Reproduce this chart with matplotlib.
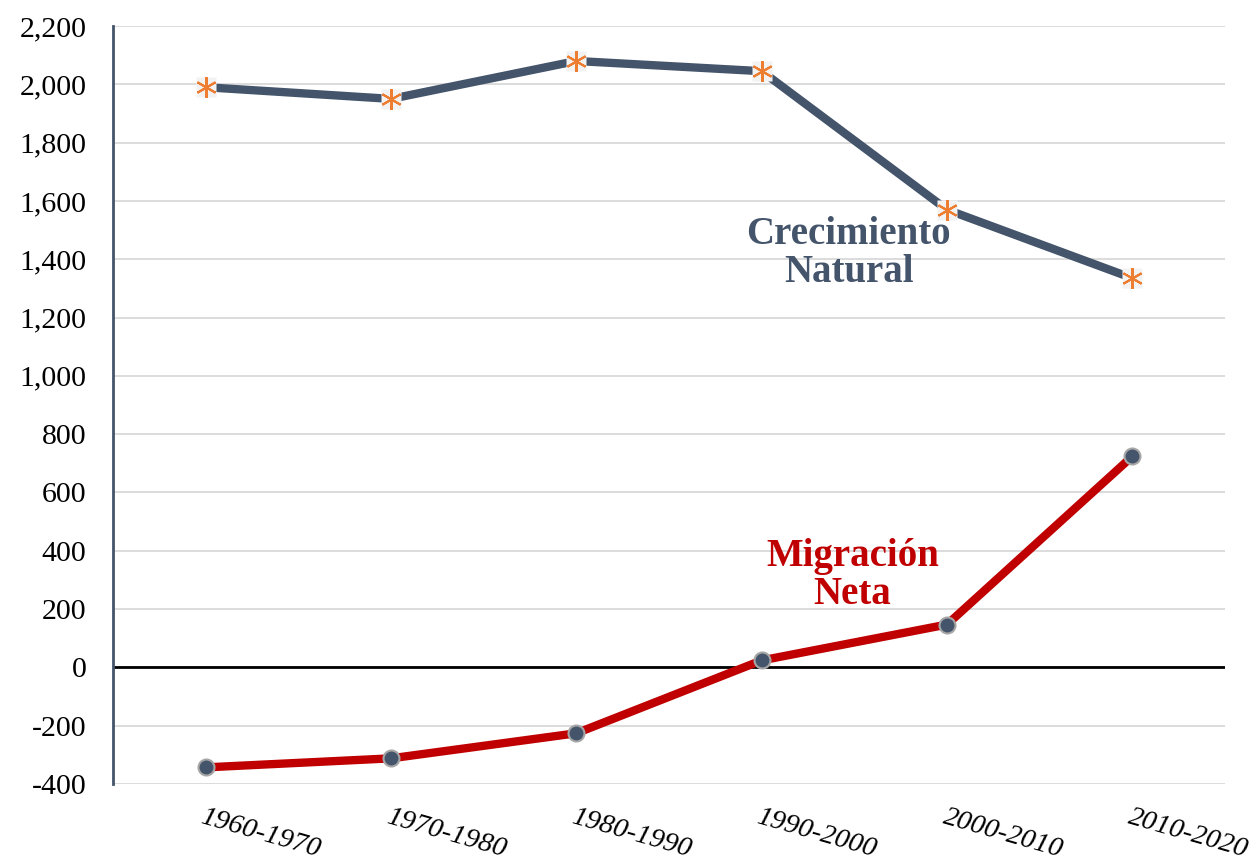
import matplotlib.pyplot as plt
from matplotlib.ticker import FuncFormatter

periodos = ['1960-1970', '1970-1980', '1980-1990', '1990-2000', '2000-2010', '2010-2020']
crecimiento = [1990, 1950, 2080, 2045, 1570, 1335]
migracion = [-343, -312, -226, 24, 147, 724]

plt.rcParams['font.family'] = ['Liberation Serif', 'DejaVu Serif']

fig = plt.figure(figsize=(12.59, 8.67), dpi=100)
ax = fig.add_axes([113/1259, 1 - 784/867, (1225-113)/1259, (784-26)/867])

x = range(len(periodos))

# lineas
ax.plot(x, crecimiento, color='#44546A', lw=6, zorder=3, solid_capstyle='butt')
ax.plot(x, crecimiento, ls='none', marker='s', ms=14, mfc='#F2F2F2', mec='none', zorder=4)
ax.plot(x, crecimiento, ls='none', marker=(6, 2, 0), ms=15, mec='#ED7D31', mew=1.5, zorder=5)

ax.plot(x, migracion, color='#C00000', lw=6, zorder=3, solid_capstyle='butt')
ax.plot(x, migracion, ls='none', marker='o', ms=11.5, mfc='#44546A', mec='#A6A6A6', mew=1.5, zorder=5)

ax.axhline(0, color='black', lw=2, zorder=2)

ax.set_xlim(-0.5, 5.5)
ax.set_ylim(-400, 2200)
ax.set_yticks(range(-400, 2201, 200))
ax.yaxis.set_major_formatter(FuncFormatter(lambda v, p: f'{int(v):,}'))
ax.grid(axis='y', color='#D9D9D9', lw=1.3, zorder=1)
ax.set_axisbelow(True)

for s in ['top', 'right', 'bottom']:
    ax.spines[s].set_visible(False)
ax.spines['left'].set_color('#44546A')
ax.spines['left'].set_linewidth(2)

ax.tick_params(axis='both', length=0, labelsize=21.5)
ax.tick_params(axis='y', pad=19)
ax.set_xticks(list(x))
ax.set_xticklabels(periodos, rotation=-16, ha='left', rotation_mode='anchor',
                   fontstyle='italic', fontsize=20.5)
ax.tick_params(axis='x', pad=15)

ax.text(3.47, 1420, 'Crecimiento\nNatural', ha='center', va='center', fontsize=28,
        fontweight='bold', color='#44546A', linespacing=1.05)
ax.text(3.49, 316, 'Migración\nNeta', ha='center', va='center', fontsize=28,
        fontweight='bold', color='#C00000', linespacing=1.05)

fig.savefig('out.png', dpi=100)
